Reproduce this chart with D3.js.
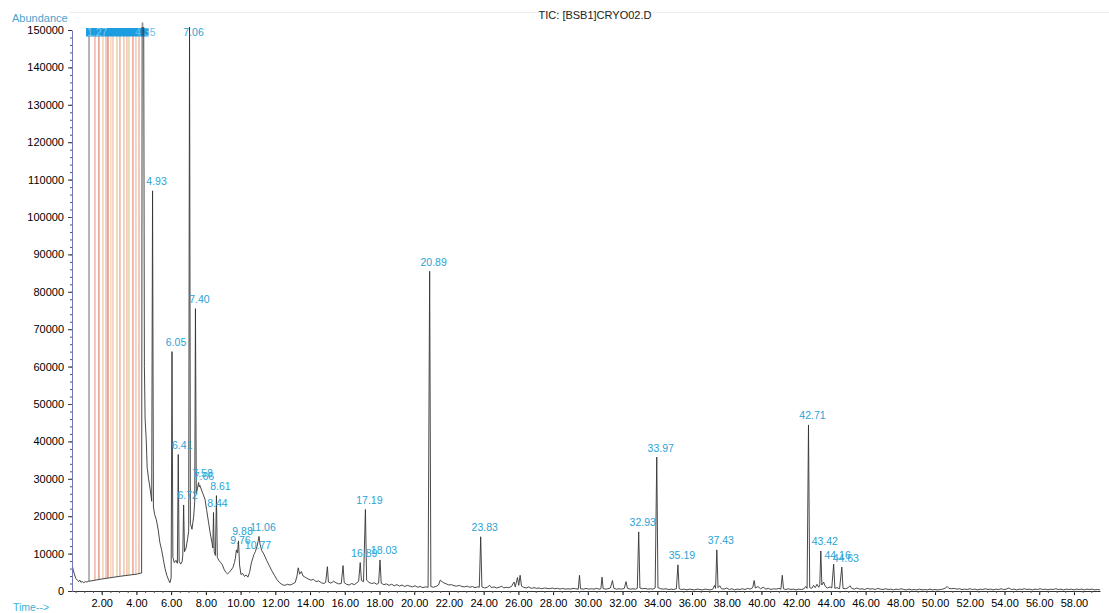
<!DOCTYPE html>
<html>
<head>
<meta charset="utf-8">
<script src="https://cdn.jsdelivr.net/npm/d3@7"></script>
<style>
  html, body { margin: 0; padding: 0; background: #fff; }
  svg { display: block; font-family: "Liberation Sans", Arial, sans-serif; }
</style>
</head>
<body>
<svg id="chart" width="1109" height="613"></svg>
<script>
// Total ion chromatogram: [retention time (min), abundance]
const traceEarly = [
  [0.29, 7200],[0.36, 5600],[0.44, 4300],[0.52, 3300],[0.60, 2900],[0.67, 2500],[0.74, 2900],
  [0.81, 2300],[0.88, 2600],[0.96, 2200],[1.05, 2500],[1.15, 2400],[1.25, 2600],
  [2.00, 3200],[3.00, 3900],[4.00, 4500],[4.30, 4800],[4.33, 152000],[4.42, 152000],
  [4.46, 60000],[4.50, 46000],[4.56, 41000],[4.62, 33000],[4.70, 30000],[4.80, 27000],
  [4.88, 24000],[4.93, 107000],[4.98, 22500],[5.05, 20500],[5.15, 19000],[5.25, 16500],
  [5.35, 13000],[5.45, 11000],[5.55, 8500],[5.65, 6000],[5.75, 4200],[5.85, 3000],
  [5.93, 2200],[6.00, 3500],[6.05, 64000],[6.10, 9000],[6.18, 7600],[6.28, 8200],
  [6.36, 7400],[6.41, 36500],[6.46, 8000],[6.55, 7200],[6.63, 7800],[6.67, 9500],
  [6.72, 23000],[6.77, 10500],[6.86, 11500],[6.95, 14000],[7.01, 16000],[7.06, 152000],
  [7.11, 18000],[7.20, 16500],[7.30, 20000],[7.36, 24000],[7.40, 75500],[7.45, 26000],
  [7.52, 27500],[7.58, 29000],[7.62, 27800],[7.66, 28200],[7.75, 27000],[7.85, 25800],
  [7.95, 24500],[8.05, 21500],[8.15, 18500],[8.25, 15500],[8.35, 13000],[8.40, 11500],
  [8.44, 21000],[8.48, 10500],[8.55, 9500],[8.61, 25500],[8.66, 9000],[8.75, 8200],
  [8.85, 7600],[8.95, 7000],[9.05, 5800],[9.15, 5000],[9.25, 4600],[9.35, 5000],
  [9.45, 5600],[9.55, 6200],[9.65, 7600],[9.70, 8800],[9.76, 11000],[9.82, 10200],
  [9.88, 13400],[9.94, 7000],[10.02, 4400],[10.12, 4700],[10.22, 3900],[10.32, 4300],
  [10.42, 3700],[10.52, 5000],[10.62, 7500],[10.72, 9000],[10.77, 9800],[10.85, 10500],
  [10.95, 12000],[11.02, 13500],[11.06, 14600],[11.12, 12500],[11.22, 10800],[11.35, 9800],
  [11.50, 8200],[11.65, 6800],[11.80, 5400],[11.95, 4200],[12.10, 3000],[12.25, 2200],
  [12.40, 1700],[12.55, 1500],[12.70, 1800],[12.85, 1600],[13.00, 1900],[13.15, 2300],
  [13.25, 4000],[13.32, 6200],[13.40, 4500],[13.50, 5200],[13.60, 4000],[13.75, 3600],
  [13.90, 3200],[14.05, 2900],[14.20, 3100],[14.35, 2500],[14.50, 2700],[14.65, 2200],
  [14.80, 2000],[14.90, 2300],[15.00, 6500],[15.06, 2400],[15.20, 2100],[15.35, 2600],
  [15.50, 2200],[15.65, 1900],[15.80, 2000],[15.90, 6800],[15.97, 2200],[16.10, 1800],
  [16.25, 1600],[16.40, 2000],[16.55, 1700],[16.70, 2200],[16.80, 2600],[16.89, 7600],
  [16.96, 2800],[17.08, 2500],[17.19, 21800],[17.26, 2900],[17.40, 2300],[17.55, 2000],
  [17.70, 2200],[17.85, 1800],[17.95, 2100],[18.03, 8300],[18.10, 2100],[18.25, 1700],
  [18.40, 1900],[18.55, 1500],[18.70, 1800],[18.85, 1400],[19.00, 1700],[19.15, 1300],
  [19.30, 1600],[19.45, 1200],[19.60, 1500],[19.75, 1300],[19.90, 1100],[20.05, 1400],
  [20.20, 1000],[20.35, 1200],[20.50, 900],[20.65, 1100],[20.80, 1000]
];

const traceMid = [
  [20.89, 85500],[20.96, 1200],[21.10, 1000],[21.25, 1200],[21.40, 1600],[21.50, 2900],
  [21.60, 2500],[21.70, 2200],[21.85, 1900],[22.00, 1600],[22.15, 1700],[22.30, 1400],
  [22.45, 1300],[22.60, 1500],[22.75, 1200],[22.90, 1100],[23.05, 1300],[23.20, 1000],
  [23.35, 1200],[23.50, 900],[23.65, 1100],[23.75, 1000],[23.83, 14500],[23.90, 1100],
  [24.05, 800],[24.20, 1000],[24.35, 1500],[24.45, 900],[24.60, 1100],[24.75, 800],
  [24.90, 1000],[25.05, 1300],[25.15, 800],[25.30, 1000],[25.45, 900],[25.60, 1200],
  [25.75, 2400],[25.82, 1100],[25.95, 3600],[26.02, 1500],[26.10, 4200],[26.18, 1300],
  [26.30, 1000],[26.45, 800],[26.60, 1100],[26.75, 700],[26.90, 900],[27.05, 700],
  [27.20, 800],[27.35, 600],[27.50, 800],[27.65, 700],[27.80, 600],[27.95, 800],
  [28.10, 600],[28.25, 700],[28.40, 500],[28.55, 700],[28.70, 500],[28.85, 600],
  [29.00, 500],[29.15, 700],[29.30, 600],[29.45, 500],[29.52, 4200],[29.58, 600],
  [29.75, 500],[29.90, 700],[30.05, 500],[30.20, 600],[30.35, 500],[30.50, 700],
  [30.65, 500],[30.75, 600],[30.82, 3700],[30.88, 700],[31.00, 500],[31.15, 600],
  [31.30, 800],[31.42, 2800],[31.50, 700],[31.65, 500],[31.80, 600],[31.95, 500],
  [32.10, 700],[32.20, 2500],[32.28, 700],[32.45, 500],[32.60, 600],[32.75, 500],
  [32.85, 700],[32.93, 15800],[33.00, 800],[33.15, 600],[33.30, 700],[33.45, 500],
  [33.60, 600],[33.75, 500],[33.88, 800],[33.97, 35800],[34.04, 900],[34.20, 600],
  [34.35, 500],[34.50, 600],[34.65, 400],[34.80, 500],[34.95, 400],[35.10, 600],
  [35.19, 7000],[35.26, 600],[35.40, 400],[35.55, 500],[35.70, 300],[35.85, 500],
  [36.00, 400],[36.15, 300],[36.30, 500],[36.45, 400],[36.60, 300],[36.75, 500],
  [36.90, 400],[37.05, 300],[37.20, 500],[37.30, 1500],[37.36, 700],[37.43, 11000],
  [37.50, 900],[37.60, 1400],[37.70, 600],[37.85, 500],[38.00, 800],[38.15, 400],
  [38.30, 600],[38.45, 300],[38.60, 500],[38.75, 400],[38.90, 600],[39.05, 400],
  [39.20, 700],[39.35, 500],[39.50, 900],[39.58, 2800],[39.65, 800],[39.80, 1200],
  [39.95, 600],[40.10, 1000],[40.25, 500],[40.40, 700],[40.55, 400],[40.70, 600],
  [40.85, 500],[41.00, 700],[41.12, 500],[41.20, 4200],[41.27, 600],[41.40, 400],
  [41.55, 600],[41.70, 400],[41.85, 500],[42.00, 300],[42.15, 500],[42.30, 400],
  [42.45, 600],[42.55, 1200],[42.63, 700]
];

const traceLate = [
  [42.71, 44400],[42.78, 900],[42.90, 700],[43.00, 1500],[43.10, 900],[43.20, 1800],
  [43.30, 1000],[43.36, 1700],[43.42, 10700],[43.48, 1600],[43.58, 2400],[43.68, 1200],
  [43.80, 800],[43.95, 1100],[44.05, 800],[44.16, 7200],[44.23, 700],[44.35, 900],
  [44.50, 600],[44.63, 6400],[44.70, 700],[44.85, 600],[45.00, 900],[45.10, 1400],
  [45.20, 700],[45.35, 500],[45.50, 800],[45.65, 500],[45.80, 600],[45.95, 400],
  [46.10, 700],[46.25, 500],[46.40, 600],[46.55, 400],[46.70, 700],[46.85, 500],
  [47.00, 400],[47.15, 600],[47.30, 400],[47.45, 500],[47.60, 300],[47.75, 500],
  [47.90, 400],[48.05, 600],[48.20, 400],[48.35, 300],[48.50, 500],[48.65, 300],
  [48.80, 400],[48.95, 300],[49.10, 500],[49.25, 300],[49.40, 400],[49.55, 300],
  [49.70, 500],[49.85, 300],[50.00, 400],[50.15, 300],[50.30, 400],[50.45, 500],
  [50.60, 800],[50.70, 1200],[50.80, 700],[50.95, 600],[51.10, 700],[51.25, 500],
  [51.40, 600],[51.55, 400],[51.70, 500],[51.85, 400],[52.00, 600],[52.15, 400],
  [52.30, 500],[52.45, 300],[52.60, 500],[52.75, 400],[52.90, 600],[53.05, 400],
  [53.20, 500],[53.35, 300],[53.50, 500],[53.65, 400],[53.80, 600],[53.95, 400],
  [54.10, 500],[54.25, 800],[54.40, 400],[54.55, 500],[54.70, 300],[54.85, 500],
  [55.00, 400],[55.15, 600],[55.30, 400],[55.45, 500],[55.60, 300],[55.75, 500],
  [55.90, 400],[56.05, 600],[56.20, 400],[56.35, 500],[56.50, 300],[56.65, 500],
  [56.80, 400],[56.95, 600],[57.10, 400],[57.25, 500],[57.40, 300],[57.55, 500],
  [57.70, 400],[57.85, 500],[58.00, 300],[58.15, 500],[58.30, 400],[58.45, 500],
  [58.60, 300],[58.75, 500],[58.90, 400],[59.05, 500],[59.20, 300],[59.35, 400],
  [59.50, 300]
];

// Integrated peaks that carry a retention-time label
const peakTimes = [
  "4.93","6.05","6.41","6.72","7.06","7.40","7.58","7.66","8.44","8.61",
  "9.76","9.88","10.77","11.06","16.89","17.19","18.03","20.89","23.83",
  "32.93","33.97","35.19","37.43","42.71","43.42","44.16","44.63"
];

// Peaks integrated inside the saturated solvent window
const windowTimes = [
  1.27, 1.61, 1.84, 2.07, 2.25, 2.36, 2.53, 2.65, 2.88, 3.05,
  3.28, 3.45, 3.57, 3.80, 3.97, 4.15, 4.35
];
const windowColors = [
  "#a8a8a8", "#f2bcb4", "#e9a494", "#f6d8bc", "#f3c2c0", "#e89c8e", "#f7dcc0", "#f5cfc6",
  "#ead5a8", "#f1b9b2", "#f4cfa8", "#f3c7c2", "#ecd9b0", "#eeaaa0", "#f2d3b6", "#f0c0b8",
  "#8e8e8e"
];

const yTicks = d3.range(0, 150001, 10000);
const xTicks = d3.range(2, 59, 2);

const trace = traceEarly.concat(traceMid, traceLate);

const svg = d3.select("#chart");
const x = d3.scaleLinear().domain([0.29, 59.5]).range([72, 1100]);
const y = d3.scaleLinear().domain([0, 150000]).range([591, 30]);

const labelBlue = "#2aa3d4";

// Faint frame rule along the top
svg.append("line")
  .attr("x1", 70).attr("x2", 1109).attr("y1", 12.5).attr("y2", 12.5)
  .attr("stroke", "#ececec").attr("stroke-width", 1);

// Title
svg.append("text")
  .attr("x", 595).attr("y", 19)
  .attr("text-anchor", "middle")
  .attr("font-size", 11).attr("fill", "#222")
  .text("TIC: [BSB1]CRYO02.D");

svg.append("text")
  .attr("x", 12).attr("y", 22)
  .attr("font-size", 11).attr("fill", "#4aa3cc")
  .text("Abundance");

svg.append("text")
  .attr("x", 13).attr("y", 611)
  .attr("font-size", 10.5).attr("fill", "#3fb2d2")
  .text("Time-->");

// Clip so saturated peaks stop at the top of the scale
svg.append("defs").append("clipPath").attr("id", "plotClip")
  .append("rect").attr("x", 72).attr("y", 27).attr("width", 1040).attr("height", 566);

// Baseline under the solvent window
const bisect = d3.bisector(d => d[0]).left;
function traceAt(t) {
  const i = Math.max(1, Math.min(trace.length - 1, bisect(trace, t)));
  const a = trace[i - 1], b = trace[i];
  const f = (t - a[0]) / (b[0] - a[0]);
  return a[1] + f * (b[1] - a[1]);
}

// Solvent window markers
svg.append("g").selectAll("line")
  .data(windowTimes)
  .join("line")
  .attr("x1", d => x(d)).attr("x2", d => x(d))
  .attr("y1", y(150000) + 6)
  .attr("y2", d => y(traceAt(d)))
  .attr("stroke", (d, i) => windowColors[i])
  .attr("stroke-width", 1.7);

// Label band where the crowded window labels pile up
const bandX0 = x(windowTimes[0]) - 3;
const bandX1 = x(windowTimes[windowTimes.length - 1]) + 6;
svg.append("rect")
  .attr("x", bandX0).attr("y", 28)
  .attr("width", bandX1 - bandX0).attr("height", 8.5)
  .attr("fill", "#1c9de0");
const endLabels = [windowTimes[0], windowTimes[windowTimes.length - 1]];
svg.append("g").selectAll("text")
  .data(endLabels)
  .join("text")
  .attr("x", (d, i) => i === 0 ? bandX0 + 1 : bandX1 + 7)
  .attr("y", 36)
  .attr("text-anchor", (d, i) => i === 0 ? "start" : "end")
  .attr("font-size", 10.5)
  .attr("fill", (d, i) => i === 0 ? "#7cc8ee" : "#6cc0ea")
  .text(d => d.toFixed(2));

// Chromatogram trace
const line = d3.line().x(d => x(d[0])).y(d => y(d[1]));
svg.append("path")
  .datum(trace)
  .attr("clip-path", "url(#plotClip)")
  .attr("fill", "none")
  .attr("stroke", "#333")
  .attr("stroke-width", 0.9)
  .attr("stroke-linejoin", "round")
  .attr("d", line);

// Peak retention-time labels
const peaks = peakTimes.map(s => {
  const t = +s;
  const pt = trace.find(d => Math.abs(d[0] - t) < 1e-6);
  return { label: s, t: t, v: pt ? pt[1] : 0 };
});
svg.append("g").selectAll("text")
  .data(peaks)
  .join("text")
  .attr("x", d => x(d.t) + 4)
  .attr("y", d => d.v > 150000 ? y(150000) + 6 : y(d.v) - 5.5)
  .attr("text-anchor", "middle")
  .attr("font-size", 10.5)
  .attr("fill", labelBlue)
  .text(d => d.label);

// Axes
const yAxis = svg.append("g")
  .attr("transform", "translate(72,0)")
  .call(d3.axisLeft(y).tickValues(yTicks).tickFormat(d3.format("d")).tickSize(4).tickSizeOuter(0));
yAxis.select(".domain").attr("stroke", "#7078b8");
yAxis.selectAll(".tick line").attr("stroke", "#333");
yAxis.selectAll(".tick text")
  .attr("font-size", 11).attr("fill", "#000").attr("dx", "-1");

svg.append("g")
  .attr("transform", "translate(72,0)")
  .call(d3.axisLeft(y).tickValues(d3.range(2000, 150000, 2000)).tickFormat("").tickSize(2).tickSizeOuter(0))
  .call(g => g.select(".domain").remove())
  .selectAll(".tick line").attr("stroke", "#555");

const xAxis = svg.append("g")
  .attr("transform", "translate(0,591)")
  .call(d3.axisBottom(x).tickValues(xTicks).tickFormat(d3.format(".2f")).tickSize(4).tickSizeOuter(0));
xAxis.select(".domain").attr("stroke", "#333");
xAxis.selectAll(".tick text")
  .attr("font-size", 11).attr("fill", "#000").attr("dy", "0.85em");

svg.append("g")
  .attr("transform", "translate(0,591)")
  .call(d3.axisBottom(x).tickValues(d3.range(0.5, 59.5, 0.5)).tickFormat("").tickSize(2).tickSizeOuter(0))
  .call(g => g.select(".domain").remove())
  .selectAll(".tick line").attr("stroke", "#555");
</script>
</body>
</html>
